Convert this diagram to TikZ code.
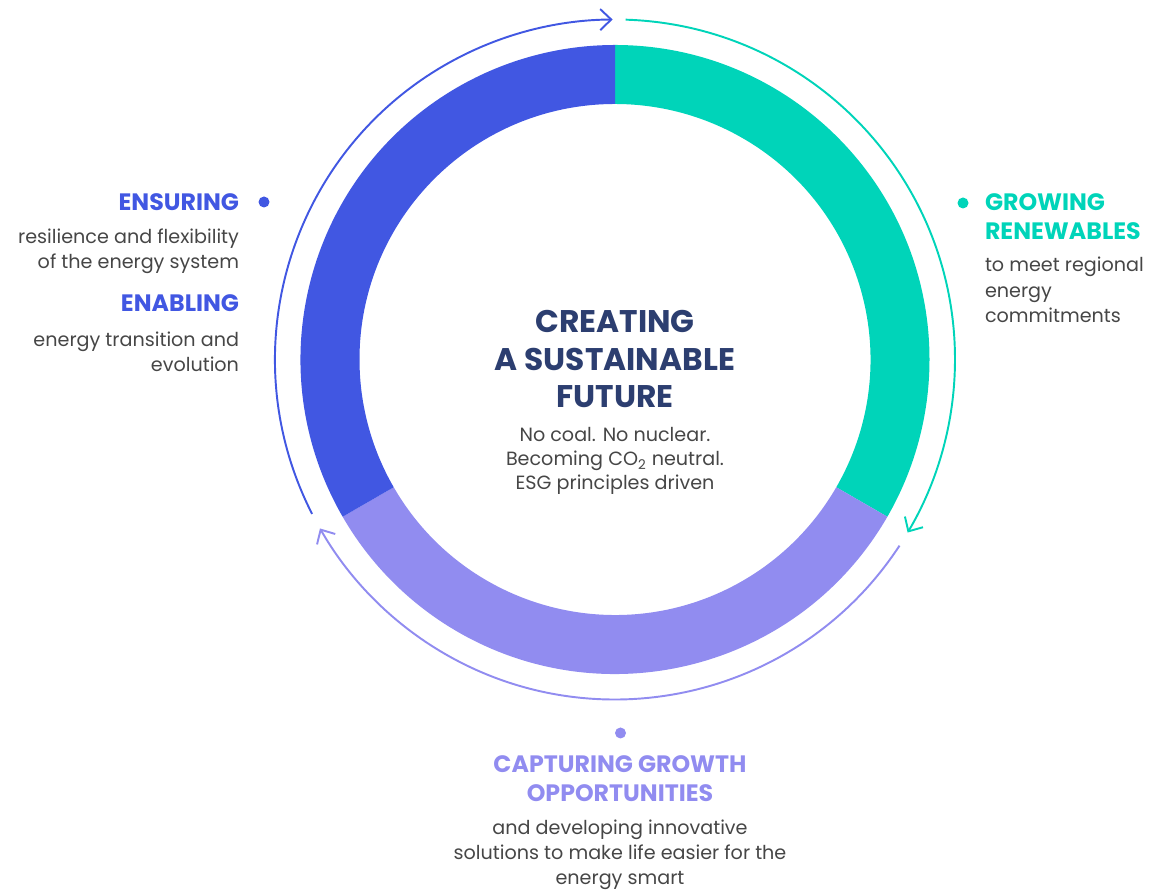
\documentclass[tikz,border=0pt]{standalone}
\usepackage{fontspec}
\setmainfont{Poppins}
\usetikzlibrary{arrows.meta, positioning, calc}
\definecolor{ensblue}{RGB}{65,87,226}
\definecolor{growteal}{RGB}{0,212,185}
\definecolor{capviolet}{RGB}{145,140,240}
\definecolor{navy}{RGB}{44,62,112}
\definecolor{bodygray}{RGB}{70,70,70}

\begin{document}
\begin{tikzpicture}[
  every node/.style={inner sep=0pt, outer sep=0pt},
  head/.style={font=\fontsize{13.5}{16.5}\selectfont\bfseries},
  body/.style={font=\fontsize{10.9}{14.6}\selectfont, text=bodygray},
  hubtitle/.style={font=\fontsize{17.8}{21.6}\selectfont\bfseries, text=navy, align=center},
  bullet/.style={circle, minimum size=2.2mm},
  flow/.style={line width=1.1pt, -{Straight Barb[length=2.2mm, width=4.2mm, line width=1.1pt]}}
]
\useasboundingbox (0,0) rectangle (23.32,17.82);
\coordinate (hub) at (12.3,10.63);

% ring segments and the cycle arrows round them
\begin{scope}[shift={(hub)}]
\fill[growteal] (90:6.29) arc[start angle=90, end angle=-30, radius=6.29]
  -- (-30:5.11) arc[start angle=-30, end angle=90, radius=5.11] -- cycle;
\fill[capviolet] (-30:6.29) arc[start angle=-30, end angle=-150, radius=6.29]
  -- (-150:5.11) arc[start angle=-150, end angle=-30, radius=5.11] -- cycle;
\fill[ensblue] (210:6.29) arc[start angle=210, end angle=90, radius=6.29]
  -- (90:5.11) arc[start angle=90, end angle=210, radius=5.11] -- cycle;

\draw[flow, ensblue] (207:6.8) arc[start angle=207, end angle=90.4, radius=6.8];
\draw[flow, growteal] (88.2:6.8) arc[start angle=88.2, end angle=-30.6, radius=6.8];
\draw[flow, capviolet] (-33.2:6.8) arc[start angle=-33.2, end angle=-150.2, radius=6.8];
\end{scope}

% centre (base = last line)
\node[hubtitle, anchor=base] (hubtext) at (12.3,9.66)
  {CREATING\\A SUSTAINABLE\\FUTURE};
\node[body, align=center, font=\fontsize{10.9}{13.7}\selectfont, anchor=base] (hubnote) at (12.3,8.02)
  {No coal. No nuclear.\\Becoming CO\textsubscript{2} neutral.\\ESG principles driven};

% ensuring / enabling
\node[bullet, fill=ensblue] (ensdot) at (5.28,13.78) {};
\node[head, text=ensblue, anchor=base east] (ensuring) at (4.78,13.60) {ENSURING};
\node[body, align=right, anchor=base east] (ensnote) at (4.78,12.44)
  {resilience and flexibility\\of the energy system};
\node[head, text=ensblue, anchor=base east] (enabling) at (4.78,11.58) {ENABLING};
\node[body, align=right, anchor=base east] (enanote) at (4.78,10.38)
  {energy transition and\\evolution};

% growing renewables
\node[bullet, fill=growteal] (growdot) at (19.26,13.76) {};
\node[head, text=growteal, align=left, anchor=base west] (growing) at (19.70,13.02)
  {GROWING\\RENEWABLES};
\node[body, align=left, anchor=base west] (grownote) at (19.70,11.36)
  {to meet regional\\energy\\commitments};

% capturing growth
\node[bullet, fill=capviolet] (capdot) at (12.41,3.16) {};
\node[head, text=capviolet, align=center, anchor=base] (capturing) at (12.4,1.78)
  {CAPTURING GROWTH\\OPPORTUNITIES};
\node[body, align=center, font=\fontsize{10.9}{14.3}\selectfont, anchor=base] (capnote) at (12.4,0.13)
  {and developing innovative\\solutions to make life easier for the\\energy smart};

\end{tikzpicture}
\end{document}
